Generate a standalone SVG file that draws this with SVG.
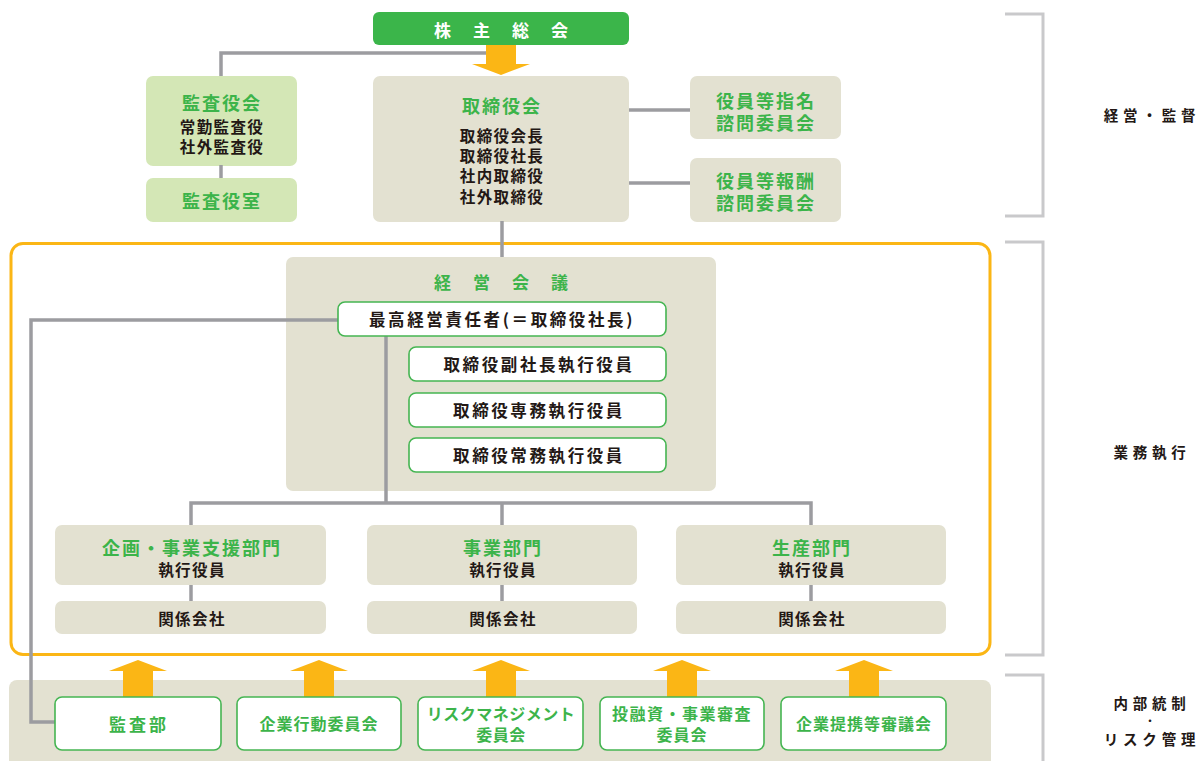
<svg xmlns="http://www.w3.org/2000/svg" width="1200" height="761" viewBox="0 0 1200 761">
  <defs>
    <style>
      text { font-family: "Noto Sans CJK JP", "Noto Sans", sans-serif; text-anchor: middle; dominant-baseline: central; }
      .beige { fill: #e3e1d1; }
      .lgreen { fill: #d4e7b6; }
      .card { fill: #ffffff; stroke: #45b552; stroke-width: 1.6; }
      .g { fill: #3cb44a; font-weight: 700; }
      .gt { fill: #3cb44a; font-weight: 700; font-size: 18px; letter-spacing: 2px; }
      .k { fill: #231815; font-weight: 700; font-size: 15.5px; letter-spacing: 1.4px; }
      .kc { fill: #231815; font-weight: 700; font-size: 16.5px; letter-spacing: 2.6px; }
      .side { fill: #231815; font-weight: 700; font-size: 14.5px; letter-spacing: 4.8px; }
      .line { fill: none; stroke: #9c9ca0; stroke-width: 3.5; }
      .bracket { fill: none; stroke: #c9c9cb; stroke-width: 3; }
      .arrow { fill: #fbb615; }
    </style>
  </defs>

  <!-- section brackets and labels on the right -->
  <g id="brackets">
    <polyline class="bracket" points="1005,14 1043,14 1043,216 1005,216"/>
    <polyline class="bracket" points="1005,242 1043,242 1043,655 1005,655"/>
    <polyline class="bracket" points="1005,675 1043,675 1043,770"/>
    <text class="side" x="1152" y="114">経営・監督</text>
    <text class="side" x="1152" y="451">業務執行</text>
    <text class="side"><tspan x="1152" y="702">内部統制</tspan><tspan x="1150" y="720" font-size="10" letter-spacing="0">・</tspan><tspan x="1152" y="738">リスク管理</tspan></text>
  </g>

  <!-- execution frame -->
  <rect id="execution-frame" x="11" y="243.5" width="979" height="411" rx="12" fill="none" stroke="#fbb615" stroke-width="3"/>

  <!-- internal control band -->
  <rect id="control-band" x="9" y="680" width="982" height="95" rx="8" class="beige"/>

  <!-- governance -->
  <g id="shareholders">
    <rect x="373" y="12" width="256" height="33" rx="6" fill="#3bb54a"/>
    <text x="512" y="29" fill="#ffffff" font-weight="700" font-size="17" letter-spacing="22">株主総会</text>
  </g>

  <g id="auditors">
    <rect x="146" y="76" width="151" height="90" rx="7" class="lgreen"/>
    <text class="gt" x="222" y="102">監査役会</text>
    <text class="k"><tspan x="222" y="126">常勤監査役</tspan><tspan x="222" y="146">社外監査役</tspan></text>
  </g>

  <g id="auditors-office">
    <rect x="146" y="178" width="151" height="44" rx="7" class="lgreen"/>
    <text class="gt" x="222" y="200">監査役室</text>
  </g>

  <g id="board">
    <rect x="373" y="76" width="256" height="146" rx="7" class="beige"/>
    <text class="gt" x="502" y="105">取締役会</text>
    <text class="k"><tspan x="502" y="135">取締役会長</tspan><tspan x="502" y="155">取締役社長</tspan><tspan x="502" y="175">社内取締役</tspan><tspan x="502" y="196">社外取締役</tspan></text>
  </g>

  <g id="nomination-committee">
    <rect x="690" y="76" width="151" height="63" rx="7" class="beige"/>
    <text class="gt"><tspan x="766" y="100">役員等指名</tspan><tspan x="766" y="122">諮問委員会</tspan></text>
  </g>

  <g id="compensation-committee">
    <rect x="690" y="158" width="151" height="64" rx="7" class="beige"/>
    <text class="gt"><tspan x="766" y="180">役員等報酬</tspan><tspan x="766" y="202">諮問委員会</tspan></text>
  </g>

  <!-- management meeting -->
  <g id="management-meeting">
    <rect x="286" y="257" width="430" height="234" rx="7" class="beige"/>
    <text class="g" x="512" y="281" font-size="17" letter-spacing="22">経営会議</text>
  </g>

  <!-- business divisions -->
  <g id="planning-division">
    <rect x="55" y="525" width="271" height="60" rx="7" class="beige"/>
    <text class="gt" x="192" y="547">企画・事業支援部門</text>
    <text class="k" x="192" y="569">執行役員</text>
  </g>
  <g id="planning-affiliates">
    <rect x="55" y="601" width="271" height="33" rx="7" class="beige"/>
    <text class="k" x="192" y="618" letter-spacing="2">関係会社</text>
  </g>

  <g id="business-division">
    <rect x="367" y="525" width="270" height="60" rx="7" class="beige"/>
    <text class="gt" x="503" y="547">事業部門</text>
    <text class="k" x="503" y="569">執行役員</text>
  </g>
  <g id="business-affiliates">
    <rect x="367" y="601" width="270" height="33" rx="7" class="beige"/>
    <text class="k" x="503" y="618" letter-spacing="2">関係会社</text>
  </g>

  <g id="production-division">
    <rect x="676" y="525" width="270" height="60" rx="7" class="beige"/>
    <text class="gt" x="812" y="547">生産部門</text>
    <text class="k" x="812" y="569">執行役員</text>
  </g>
  <g id="production-affiliates">
    <rect x="676" y="601" width="270" height="33" rx="7" class="beige"/>
    <text class="k" x="812" y="618" letter-spacing="2">関係会社</text>
  </g>

  <!-- connectors (drawn over the container boxes) -->
  <g id="connectors">
    <polyline class="line" points="487,53 221,53 221,76"/>
    <line class="line" x1="221" y1="165" x2="221" y2="178"/>
    <line class="line" x1="629" y1="110" x2="690" y2="110"/>
    <line class="line" x1="629" y1="183" x2="690" y2="183"/>
    <line class="line" x1="502" y1="221" x2="502" y2="257"/>
    <polyline class="line" points="338,320 31,320 31,722 55,722"/>
    <line class="line" x1="386" y1="336" x2="386" y2="503"/>
    <polyline class="line" points="191,525 191,503 811,503 811,525"/>
    <line class="line" x1="502" y1="503" x2="502" y2="525"/>
    <line class="line" x1="191" y1="585" x2="191" y2="601"/>
    <line class="line" x1="502" y1="585" x2="502" y2="601"/>
    <line class="line" x1="811" y1="585" x2="811" y2="601"/>
    <!-- orange flow arrows -->
    <polygon class="arrow" points="486,45 516,45 516,64 530,64 501,75 472,64 486,64"/>
    <polygon class="arrow" points="123,697 153,697 153,671 167,671 138,660 109,671 123,671"/>
    <polygon class="arrow" points="304,697 334,697 334,671 348,671 319,660 290,671 304,671"/>
    <polygon class="arrow" points="486,697 516,697 516,671 530,671 501,660 472,671 486,671"/>
    <polygon class="arrow" points="667,697 697,697 697,671 711,671 682,660 653,671 667,671"/>
    <polygon class="arrow" points="849,697 879,697 879,671 893,671 864,660 835,671 849,671"/>
  </g>

  <!-- executive cards -->
  <g id="ceo">
    <rect x="338" y="302" width="328" height="34" rx="7" class="card"/>
    <text class="kc" x="502" y="319" letter-spacing="1.8">最高経営責任者(＝取締役社長)</text>
  </g>

  <g id="evp">
    <rect x="409" y="347" width="257" height="34" rx="7" class="card"/>
    <text class="kc" x="539" y="364">取締役副社長執行役員</text>
  </g>

  <g id="senior-md">
    <rect x="409" y="393" width="257" height="34" rx="7" class="card"/>
    <text class="kc" x="539" y="410">取締役専務執行役員</text>
  </g>

  <g id="md">
    <rect x="409" y="438" width="257" height="34" rx="7" class="card"/>
    <text class="kc" x="539" y="455">取締役常務執行役員</text>
  </g>

  <!-- internal control committees -->
  <g id="internal-audit">
    <rect x="55" y="697" width="166" height="53" rx="7" class="card"/>
    <text class="g" x="139" y="723" font-size="17" letter-spacing="3">監査部</text>
  </g>
  <g id="conduct-committee">
    <rect x="237" y="697" width="164" height="53" rx="7" class="card"/>
    <text class="g" x="319" y="723" font-size="16" letter-spacing="1">企業行動委員会</text>
  </g>
  <g id="risk-committee">
    <rect x="418" y="697" width="165" height="53" rx="7" class="card"/>
    <text class="g" font-size="16" letter-spacing="0.5"><tspan x="501" y="713">リスクマネジメント</tspan><tspan x="501" y="734">委員会</tspan></text>
  </g>
  <g id="investment-committee">
    <rect x="600" y="697" width="164" height="53" rx="7" class="card"/>
    <text class="g" font-size="16" letter-spacing="1.5"><tspan x="682" y="713">投融資・事業審査</tspan><tspan x="682" y="734" letter-spacing="1">委員会</tspan></text>
  </g>
  <g id="alliance-committee">
    <rect x="781" y="697" width="165" height="53" rx="7" class="card"/>
    <text class="g" x="864" y="723" font-size="16" letter-spacing="1">企業提携等審議会</text>
  </g>
</svg>
